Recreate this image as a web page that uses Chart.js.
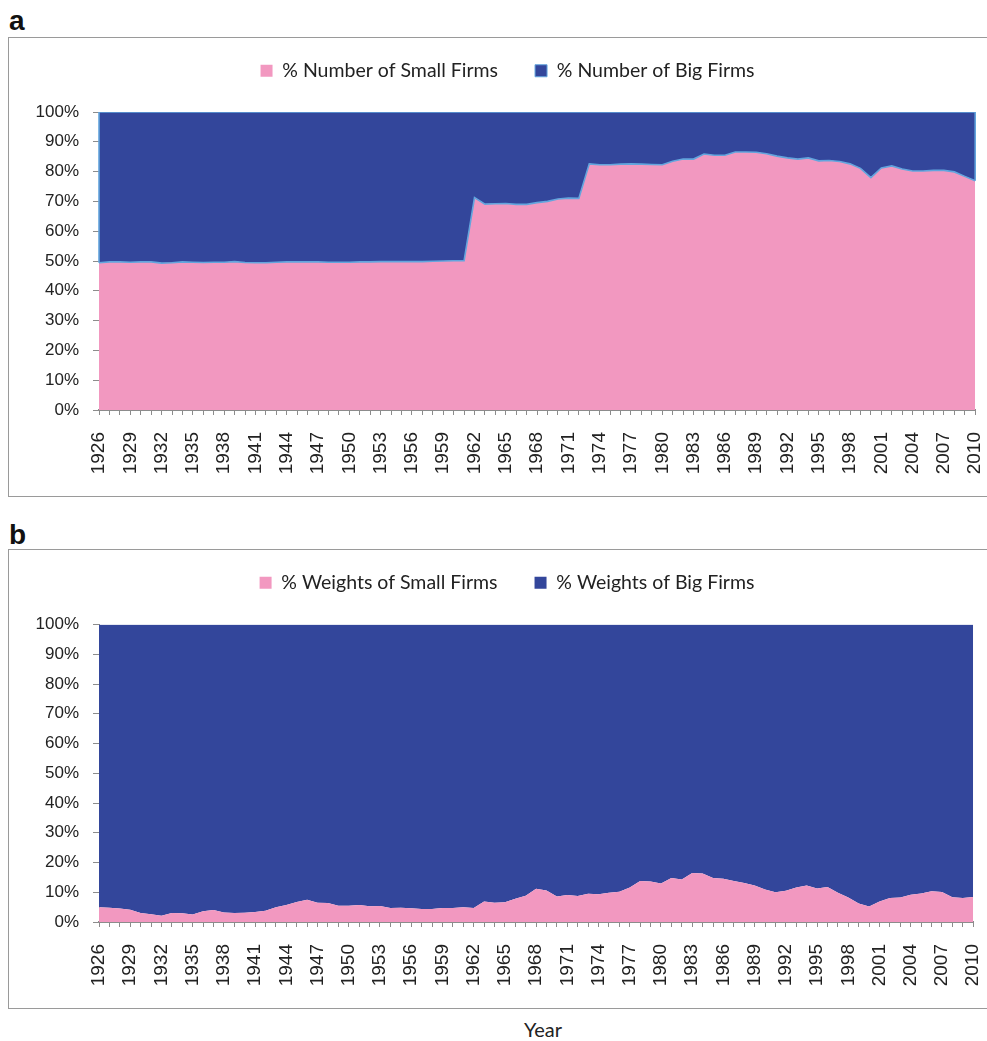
<!DOCTYPE html>
<html>
<head>
<meta charset="utf-8">
<script src="https://cdn.jsdelivr.net/npm/chart.js@4/dist/chart.umd.min.js"></script>
<style>
  html, body { margin: 0; padding: 0; background: #fff; }
  body { width: 987px; height: 1041px; overflow: hidden; position: relative; }
  .plabel { position: absolute; left: 9px; font: bold 28px "Liberation Sans", Arial, sans-serif; color: #111; line-height: 1; }
  .box { position: absolute; left: 8px; width: 1010px; height: 460px; border: 1px solid #9a9a9a; box-sizing: border-box; }
  .cw { position: absolute; left: 9px; }
  #xtitle { position: absolute; left: 443px; width: 200px; top: 1017px; text-align: center; font: 20px Lato, "Open Sans", sans-serif; color: #222; }
</style>
</head>
<body>
<div class="plabel" style="top:7px">a</div>
<div class="box" style="top:37px"></div>
<div class="cw" style="top:24px"><canvas id="chartA" width="1006" height="472"></canvas></div>

<div class="plabel" style="top:521px">b</div>
<div class="box" style="top:549px"></div>
<div class="cw" style="top:536px"><canvas id="chartB" width="1004" height="472"></canvas></div>

<div id="xtitle">Year</div>

<script>
// ---- data ----
const years = Array.from({ length: 85 }, (_, i) => 1926 + i);

const seriesNamesA = ['% Number of Small Firms', '% Number of Big Firms'];
const seriesNamesB = ['% Weights of Small Firms', '% Weights of Big Firms'];

// % number of small firms (1926-2010)
const smallNumber = [
  49.4, 49.7, 49.7, 49.6, 49.7, 49.7, 49.3, 49.4, 49.7, 49.6,
  49.5, 49.6, 49.6, 49.8, 49.5, 49.4, 49.4, 49.6, 49.7, 49.7,
  49.7, 49.7, 49.6, 49.6, 49.6, 49.7, 49.7, 49.8, 49.8, 49.8,
  49.8, 49.8, 49.9, 50.0, 50.1, 50.1,
  71.3, 69.1, 69.2, 69.3, 69.0, 69.0, 69.6, 70.0, 70.8, 71.1,
  71.0, 82.6, 82.3, 82.3, 82.5, 82.6, 82.5, 82.4, 82.3, 83.5,
  84.2, 84.2, 85.9, 85.5, 85.5, 86.6, 86.6, 86.5, 86.0, 85.2,
  84.6, 84.2, 84.6, 83.6, 83.7, 83.4, 82.6, 81.1, 78.0, 81.2,
  81.9, 80.9, 80.2, 80.2, 80.4, 80.4, 79.9, 78.4, 76.9
];

// % weights (market value) of small firms (1926-2010)
const smallWeight = [
  5.0, 4.8, 4.5, 4.1, 3.0, 2.6, 2.1, 3.0, 2.9, 2.5,
  3.6, 4.0, 3.2, 3.0, 3.1, 3.4, 3.8, 5.0, 5.7, 6.7,
  7.5, 6.5, 6.4, 5.5, 5.5, 5.7, 5.3, 5.4, 4.7, 4.8,
  4.6, 4.4, 4.4, 4.7, 4.7, 5.0, 4.7, 6.9, 6.5, 6.6,
  7.8, 8.8, 11.2,
  10.6, 8.6, 9.1, 8.7, 9.5, 9.3, 9.8, 10.2, 11.6, 13.8,
  13.6, 12.9, 14.8, 14.3, 16.5, 16.3, 14.8, 14.5, 13.8, 13.1,
  12.3, 10.9, 10.0, 10.5, 11.6, 12.3, 11.3, 11.8, 9.8, 8.2,
  6.2, 5.2, 6.9, 8.1, 8.2, 9.2, 9.6, 10.3, 10.1, 8.3,
  8.1, 8.4
];

// big firms are the complement of small firms (100% stacked)
const bigNumber = smallNumber.map(v => +(100 - v).toFixed(1));
const bigWeight = smallWeight.map(v => +(100 - v).toFixed(1));

// ---- styling ----
const PINK = '#f298c0';
const BLUE = '#33469b';
const EDGE = '#63a5dd';
const AXIS = '#8c8c8c';
const TXT = '#222';

const legendHeight = {
  id: 'legendHeight',
  beforeLayout(chart, args, opts) {
    const lg = chart.legend;
    if (lg && !lg.__patched) {
      const fit = lg.fit;
      lg.fit = function () { fit.apply(this, arguments); this.height = opts.height; };
      lg.__patched = true;
    }
  }
};

// outlines the side edges of the upper (big firms) area, as the area border does
const sideEdges = {
  id: 'sideEdges',
  afterDraw(chart, args, opts) {
    if (!opts.enabled) return;
    const x = chart.scales.x, y = chart.scales.y;
    const small = chart.data.datasets[0].data;
    const n = small.length - 1;
    const c = chart.ctx;
    c.save();
    c.strokeStyle = EDGE;
    c.lineWidth = 1.6;
    c.beginPath();
    c.moveTo(x.getPixelForValue(0), y.getPixelForValue(100));
    c.lineTo(x.getPixelForValue(0), y.getPixelForValue(small[0]));
    c.moveTo(x.getPixelForValue(n), y.getPixelForValue(100));
    c.lineTo(x.getPixelForValue(n), y.getPixelForValue(small[n]));
    c.stroke();
    c.restore();
  }
};

function build(id, names, small, big, withEdge, cfg) {
  const ctx = document.getElementById(id);
  return new Chart(ctx, {
    type: 'line',
    data: {
      labels: years,
      datasets: [
        {
          label: names[0], data: small,
          backgroundColor: PINK, borderColor: withEdge ? EDGE : PINK,
          borderWidth: withEdge ? 1.6 : 0, fill: 'origin',
          pointRadius: 0, pointHoverRadius: 0, tension: 0
        },
        {
          label: names[1], data: big,
          backgroundColor: BLUE, borderColor: withEdge ? EDGE : BLUE,
          borderWidth: withEdge ? 1.6 : 0, fill: '-1',
          pointRadius: 0, pointHoverRadius: 0, tension: 0
        }
      ]
    },
    plugins: [legendHeight, sideEdges],
    options: {
      responsive: false,
      animation: false,
      events: [],
      layout: { padding: { left: 0, top: 0, bottom: 0, right: cfg.padRight } },
      plugins: {
        legendHeight: { height: cfg.legendH },
        sideEdges: { enabled: withEdge },
        tooltip: { enabled: false },
        legend: {
          position: 'top',
          labels: {
            boxWidth: 12, boxHeight: 12, padding: 37,
            color: TXT,
            font: { family: 'Lato, "Open Sans", sans-serif', size: 19.5 },
            generateLabels(chart) {
              const items = Chart.defaults.plugins.legend.labels.generateLabels(chart);
              items.forEach((it, i) => {
                if (i === 0 || !withEdge) { it.strokeStyle = it.fillStyle; it.lineWidth = 0; }
                else { it.strokeStyle = EDGE; it.lineWidth = 1; }
              });
              return items;
            }
          }
        }
      },
      scales: {
        x: {
          type: 'category',
          offset: false,
          afterFit(scale) { scale.height = 86; },
          grid: { drawOnChartArea: false, drawTicks: true, tickLength: 5, color: AXIS },
          border: { display: true, color: AXIS, width: 2 },
          ticks: {
            autoSkip: false, minRotation: 90, maxRotation: 90, padding: 17,
            color: TXT,
            font: { family: '"Liberation Sans", Arial, sans-serif', size: 19 },
            callback(value, index) { return index % 3 === 0 ? String(years[index]) : ''; }
          }
        },
        y: {
          stacked: true, min: 0, max: 100,
          afterFit(scale) { scale.width = 90; },
          grid: { drawOnChartArea: false, drawTicks: true, tickLength: 6, color: AXIS },
          border: { display: true, color: AXIS, width: 1 },
          ticks: {
            stepSize: 10, padding: 14, color: TXT,
            font: { family: '"Liberation Sans", Arial, sans-serif', size: 17 },
            callback(v) { return v + '%'; }
          }
        }
      }
    }
  });
}

build('chartA', seriesNamesA, smallNumber, bigNumber, true, { padRight: 9, legendH: 88 });
build('chartB', seriesNamesB, smallWeight, bigWeight, false, { padRight: 8, legendH: 88.5 });
</script>
</body>
</html>
